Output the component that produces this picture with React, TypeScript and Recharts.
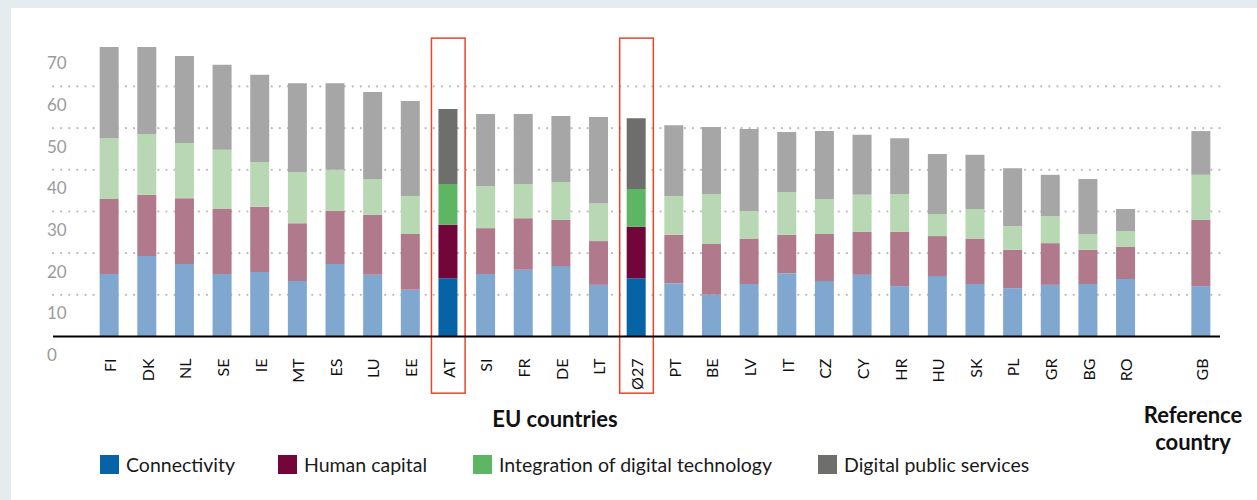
import React from "react";
import { BarChart, Bar, XAxis, YAxis, CartesianGrid, ReferenceArea, Cell } from "recharts";

const categories = ["", "FI", "DK", "NL", "SE", "IE", "MT", "ES", "LU", "EE", "AT", "SI", "FR", "DE", "LT", "Ø27", "PT", "BE", "LV", "IT", "CZ", "CY", "HR", "HU", "SK", "PL", "GR", "BG", "RO", " ", "GB"];
const connectivity = [null, 15.0, 19.3, 17.4, 15.0, 15.5, 13.3, 17.4, 14.8, 11.2, 14.0, 15.0, 16.0, 16.9, 12.4, 14.0, 12.8, 10.0, 12.6, 15.2, 13.3, 14.8, 12.1, 14.5, 12.6, 11.6, 12.4, 12.6, 13.8, null, 12.1];
const humanCapital = [null, 18.0, 14.7, 15.8, 15.6, 15.6, 13.9, 12.7, 14.4, 13.4, 12.8, 11.0, 12.4, 11.1, 10.5, 12.3, 11.6, 12.2, 10.8, 9.2, 11.3, 10.3, 13.0, 9.6, 10.8, 9.2, 10.0, 8.2, 7.7, null, 15.9];
const integration = [null, 14.6, 14.6, 13.2, 14.2, 10.8, 12.3, 9.9, 8.6, 9.1, 9.8, 10.1, 8.2, 9.1, 9.1, 9.1, 9.3, 12.0, 6.7, 10.3, 8.4, 8.9, 9.1, 5.3, 7.2, 5.7, 6.5, 3.8, 3.8, null, 10.8];
const publicServices = [null, 21.9, 20.9, 20.9, 20.4, 20.9, 21.3, 20.8, 20.9, 22.8, 18.0, 17.3, 16.8, 15.8, 20.7, 17.0, 17.0, 16.1, 19.7, 14.4, 16.3, 14.4, 13.4, 14.4, 13.0, 13.9, 9.9, 13.2, 5.3, null, 10.5];
const highlighted = ["AT", "Ø27"];
const yTicks = [0, 10, 20, 30, 40, 50, 60, 70];
const gridValues = [10, 20, 30, 40, 50, 60];

const seriesList = [
  { key: "connectivity", label: "Connectivity", light: "#7fa7cf", dark: "#0563a6" },
  { key: "humanCapital", label: "Human capital", light: "#b07a8c", dark: "#72063b" },
  { key: "integration", label: "Integration of digital technology", light: "#b7d8b2", dark: "#5eb564" },
  { key: "publicServices", label: "Digital public services", light: "#a6a6a6", dark: "#6e6e6d" },
];

const data = categories.map((name, i) => ({
  name,
  connectivity: connectivity[i],
  humanCapital: humanCapital[i],
  integration: integration[i],
  publicServices: publicServices[i],
}));

const FONT = "Lato, 'Noto Sans', sans-serif";

const XTick = (props: any) => {
  const { x, y, payload } = props;
  const v = String(payload.value).trim();
  if (!v) return null;
  return (
    <text
      x={x}
      y={y + 14}
      transform={`rotate(-90, ${x}, ${y + 14})`}
      textAnchor="end"
      dominantBaseline="central"
      fontSize={16}
      fontFamily={FONT}
      fill="#111"
    >
      {v}
    </text>
  );
};

const YTick = (props: any) => {
  const { y, payload } = props;
  return (
    <text x={47} y={y + 18} textAnchor="start" dominantBaseline="central" fontSize={17} fontFamily={FONT} fill="#9b9b9b">
      {payload.value}
    </text>
  );
};

const BoxShape = (props: any) => {
  const { x, y, width, height } = props;
  return <rect x={x + 2} y={y} width={width - 4} height={height} fill="none" stroke="#e8452c" strokeWidth={1.5} />;
};

export default function App() {
  return (
    <div style={{ position: "absolute", left: 0, top: 0, width: 1257, height: 500, background: "#e4ecf0", fontFamily: FONT }}>
      <div style={{ position: "absolute", left: 11, top: 8, width: 1246, height: 492, background: "#fff" }} />
      <div style={{ position: "absolute", left: 0, top: 0 }}>
        <BarChart width={1257} height={500} data={data} margin={{ top: 44.8, right: 37, bottom: 63.5, left: 0 }} barSize={19}>
          <CartesianGrid vertical={false} horizontalValues={gridValues} stroke="#bdbdbd" strokeWidth={2.2} strokeDasharray="0.1 8" strokeLinecap="round" />
          <XAxis dataKey="name" interval={0} tickLine={false} axisLine={{ stroke: "#000", strokeWidth: 2 }} height={100} tick={<XTick />} />
          <YAxis domain={[0, 70]} ticks={yTicks} axisLine={false} tickLine={false} width={53} tick={<YTick />} />
          {seriesList.map((s) => (
            <Bar key={s.key} dataKey={s.key} stackId="a" fill={s.light} isAnimationActive={false}>
              {data.map((d, i) => (
                <Cell key={i} fill={highlighted.includes(d.name) ? s.dark : s.light} />
              ))}
            </Bar>
          ))}
          {highlighted.map((h) => (
            <ReferenceArea key={h} x1={h} x2={h} y1={-13.6} y2={71.6} ifOverflow="visible" shape={<BoxShape />} />
          ))}
        </BarChart>
      </div>
      <div style={{ position: "absolute", left: 405, top: 405, width: 300, textAlign: "center", fontWeight: 700, fontSize: 22, color: "#111" }}>
        EU countries
      </div>
      <div style={{ position: "absolute", left: 1103, top: 401, width: 180, textAlign: "center", fontWeight: 700, fontSize: 22, lineHeight: "27px", color: "#111" }}>
        Reference
        <br />
        country
      </div>
      {seriesList.map((s, i) => {
        const lefts = [100, 278, 473, 818];
        return (
          <div key={s.key} style={{ position: "absolute", left: lefts[i], top: 455, height: 19, display: "flex", alignItems: "center", whiteSpace: "nowrap" }}>
            <div style={{ width: 19, height: 19, background: s.dark, marginRight: 7 }} />
            <span style={{ fontSize: 19.5, color: "#1a1a1a" }}>{s.label}</span>
          </div>
        );
      })}
    </div>
  );
}
